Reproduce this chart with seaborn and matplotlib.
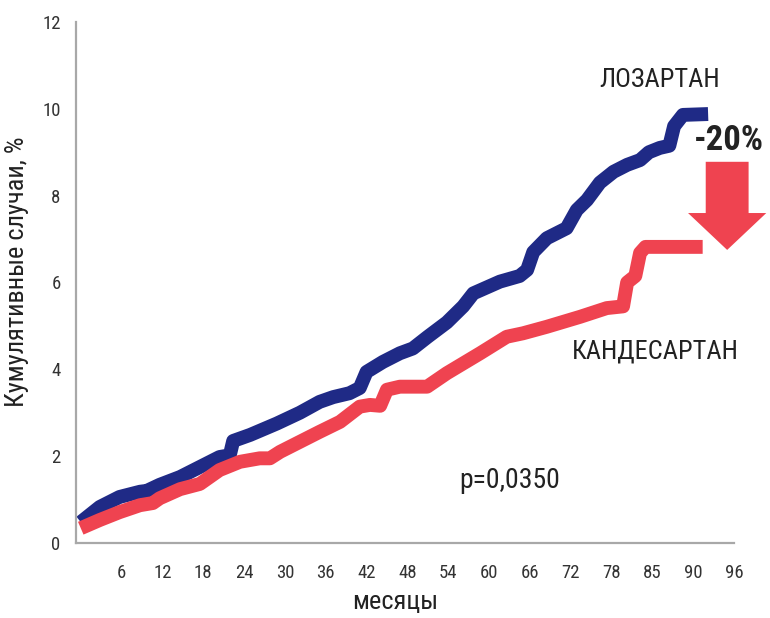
import matplotlib
matplotlib.use("Agg")
import matplotlib.pyplot as plt
from matplotlib.patches import FancyArrow
import seaborn as sns
import pandas as pd

# Cumulative event rates (%) by month of follow-up
losartan_months = [0, 2.8, 5.7, 8.7, 9.7, 11.6, 14.6, 17.5, 20.4, 21.9, 22.4, 24.9,
                   27.3, 28.8, 32.2, 35.1, 37.1, 39.5, 41.0, 42.0, 44.4, 46.9, 48.8,
                   51.0, 53.8, 56.2, 57.7, 61.6, 64.5, 65.6, 66.5, 68.5, 71.4, 72.9,
                   74.4, 76.3, 78.3, 80.3, 82.2, 83.5, 85.1, 86.5, 87.2, 88.5, 92.2]
losartan_pct = [0.48, 0.83, 1.06, 1.18, 1.20, 1.34, 1.52, 1.75, 1.98, 2.02, 2.35, 2.49,
                2.65, 2.75, 3.00, 3.25, 3.36, 3.45, 3.57, 3.94, 4.17, 4.37, 4.48,
                4.75, 5.08, 5.45, 5.75, 6.02, 6.15, 6.29, 6.70, 7.02, 7.25, 7.67,
                7.90, 8.30, 8.55, 8.71, 8.82, 9.00, 9.10, 9.15, 9.60, 9.86, 9.88]

candesartan_months = [0, 2.8, 5.7, 8.7, 10.6, 11.6, 14.6, 17.5, 20.4, 23.4, 26.3, 27.8,
                      29.3, 32.2, 35.1, 38.1, 41.0, 42.5, 44.0, 45.0, 46.9, 50.9, 53.8,
                      58.7, 62.6, 65.0, 68.5, 73.4, 77.3, 79.7, 80.3, 81.5, 82.2, 83.0,
                      91.4]
candesartan_pct = [0.34, 0.53, 0.71, 0.87, 0.92, 1.03, 1.24, 1.36, 1.68, 1.87, 1.95, 1.95,
                   2.10, 2.33, 2.56, 2.79, 3.14, 3.18, 3.16, 3.53, 3.60, 3.60, 3.91,
                   4.37, 4.75, 4.83, 4.98, 5.21, 5.41, 5.45, 6.00, 6.15, 6.68, 6.82,
                   6.82]

x_ticks = [6, 12, 18, 24, 30, 36, 42, 48, 54, 60, 66, 72, 78, 84, 90, 96]
x_tick_labels = ["6", "12", "18", "24", "30", "36", "42", "48", "54", "60", "66",
                 "72", "78", "85", "90", "96"]
y_ticks = [0, 2, 4, 6, 8, 10, 12]

reduction_label = "-20%"
p_value_label = "p=0,0350"

BLUE = "#1f2a86"
RED = "#ef4350"
AXIS_GREY = "#a8a8a8"
TEXT = "#222222"

sns.set_style("white")
plt.rcParams["font.family"] = ["Roboto Condensed", "Liberation Sans Narrow",
                               "Liberation Sans", "DejaVu Sans"]

fig = plt.figure(figsize=(7.7, 6.18), dpi=100)
ax = fig.add_axes([0.0987, 0.1214, 0.8545, 0.843])

df_l = pd.DataFrame({"month": losartan_months, "pct": losartan_pct})
df_c = pd.DataFrame({"month": candesartan_months, "pct": candesartan_pct})

line_kw = dict(linewidth=10, solid_joinstyle="round", solid_capstyle="butt",
               estimator=None, sort=False)
sns.lineplot(data=df_l, x="month", y="pct", color=BLUE, ax=ax, **line_kw)
sns.lineplot(data=df_c, x="month", y="pct", color=RED, ax=ax, **line_kw)

ax.set_xlim(-0.7, 96)
ax.set_ylim(0, 12)
ax.set_xticks(x_ticks)
ax.set_xticklabels(x_tick_labels)
ax.set_yticks(y_ticks)

for side in ("top", "right"):
    ax.spines[side].set_visible(False)
for side in ("left", "bottom"):
    ax.spines[side].set_color(AXIS_GREY)
    ax.spines[side].set_linewidth(1.6)

ax.tick_params(axis="both", direction="out", length=6, width=1.2, color=AXIS_GREY,
               labelsize=13.5, labelcolor="#333333")
ax.tick_params(axis="x", pad=9)
ax.tick_params(axis="y", pad=5)

ax.set_xlabel("месяцы", fontsize=19, color=TEXT, va="center")
ax.xaxis.set_label_coords(0.485, -0.114)
ax.set_ylabel("Кумулятивные случаи, %", fontsize=19, color=TEXT)
ax.yaxis.set_label_coords(-0.072, 0.52)

ax.text(85.1, 10.67, "ЛОЗАРТАН", fontsize=19, color=TEXT, ha="center", va="center")
ax.text(84.5, 4.4, "КАНДЕСАРТАН", fontsize=19, color=TEXT, ha="center", va="center")
ax.text(63.1, 1.43, p_value_label, fontsize=20, color=TEXT, ha="center", va="center")
ax.text(95.3, 9.28, reduction_label, fontsize=25, fontweight="bold", color=TEXT,
        ha="center", va="center")

arrow = FancyArrow(95.0, 8.78, 0, -2.03, width=6.3, head_width=11.5, head_length=0.85,
                   length_includes_head=True, color=RED, clip_on=False, linewidth=0)
ax.add_patch(arrow)

fig.savefig("out.png", dpi=100)
